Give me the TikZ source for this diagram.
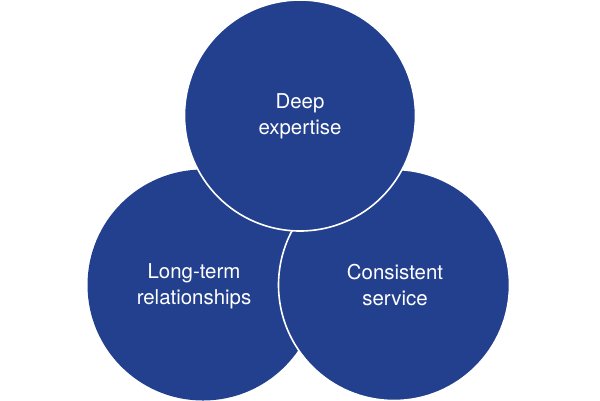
\documentclass[tikz,border=0pt]{standalone}
\usepackage{fontspec}
\setmainfont{TeX Gyre Heros}
\definecolor{vblue}{RGB}{35,64,142}
\begin{document}
\begin{tikzpicture}[x=1bp,y=-1bp,
  venn/.style={fill=vblue,draw=white,line width=1.6bp},
  lbl/.style={text=white,align=center,font=\fontsize{20.5}{26.5}\selectfont,inner sep=0pt}]
\useasboundingbox (0,0) rectangle (600,400);
\fill[vblue] (203,285) circle[radius=115.5];
\node[lbl] (lt) at (194,286) {Long-term\\relationships};
\draw[venn] (394,285) circle[radius=115.5];
\draw[venn] (300,115.5) circle[radius=115.5];
\node[lbl] (de) at (300,116) {Deep\\expertise};
\node[lbl] (cs) at (395,285) {Consistent\\service};
\end{tikzpicture}
\end{document}
